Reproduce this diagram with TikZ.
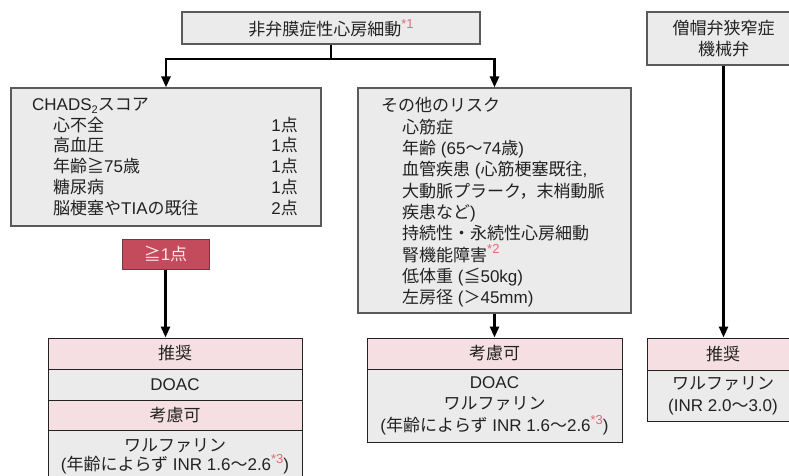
\documentclass[tikz,border=0pt]{standalone}
\usepackage{fontspec}
\setmainfont{Liberation Sans}
\newfontfamily\jpfont{Noto Sans CJK JP}
\newcommand\J[1]{{\jpfont #1}}
\usetikzlibrary{arrows.meta}
\definecolor{boxgray}{HTML}{EBEBEB}
\definecolor{edgegray}{HTML}{5A5A5A}
\definecolor{pinkrow}{HTML}{F5DFE2}
\definecolor{redbox}{HTML}{C44B5B}
\definecolor{rededge}{HTML}{6E3A40}
\definecolor{astred}{HTML}{E06A7A}
\definecolor{ink}{HTML}{222222}
\definecolor{paletext}{HTML}{FBEAEC}
\newcommand\astmark[1]{\textcolor{astred}{\raisebox{0.42em}{\fontsize{13}{13}\selectfont *#1}}}
\newcommand\subtwo{\raisebox{-0.2em}{\fontsize{11}{11}\selectfont 2}}
\begin{document}
\begin{tikzpicture}[x=1pt,y=-1pt,
  every node/.style={font=\fontsize{17}{20.7}\selectfont, text=ink, inner sep=0pt},
  gbox/.style={draw=edgegray, line width=1.2pt, fill=boxgray},
  pinkcell/.style={draw=ink, line width=1pt, fill=pinkrow, align=center},
  graycell/.style={draw=ink, line width=1pt, fill=boxgray, align=center},
  item/.style={anchor=base west},
  pts/.style={anchor=base east},
  conn/.style={line width=2.6pt, draw=black},
  arr/.style={conn, -{Triangle[width=9pt,length=11pt]}},
]
\useasboundingbox (0,0) rectangle (789,476);
\clip (0,0) rectangle (789,476);

% top boxes
\node[gbox, minimum width=298pt, minimum height=32pt] (nv) at (331,28) {\J{非弁膜症性心房細動}\astmark{1}};
\node[gbox, minimum width=153pt, minimum height=53pt, align=center] (mv) at (723.5,38.5) {\J{僧帽弁狭窄症}\\\J{機械弁}};

% CHADS2 box
\node[gbox, minimum width=310pt, minimum height=138pt] (chads) at (166,157) {};
\node[item] (c0) at (32,110.5) {CHADS\subtwo\J{スコア}};
\node[item] (c1) at (53,131.2) {\J{心不全}};
\node[item] (c2) at (53,151.9) {\J{高血圧}};
\node[item] (c3) at (53,172.6) {\J{年齢≧}75\J{歳}};
\node[item] (c4) at (53,193.3) {\J{糖尿病}};
\node[item] (c5) at (53,214) {\J{脳梗塞や}TIA\J{の既往}};
\node[pts] (p1) at (298,131.2) {1\J{点}};
\node[pts] (p2) at (298,151.9) {1\J{点}};
\node[pts] (p3) at (298,172.6) {1\J{点}};
\node[pts] (p4) at (298,193.3) {1\J{点}};
\node[pts] (p5) at (298,214) {2\J{点}};

% other risk box
\node[gbox, minimum width=273pt, minimum height=225pt] (other) at (494.5,200.5) {};
\node[item] (o0) at (381,111) {\J{その他のリスク}};
\node[item] (o1) at (402,133) {\J{心筋症}};
\node[item] (o2) at (402,154) {\J{年齢} (65\J{〜}74\J{歳})};
\node[item] (o3) at (402,175.5) {\J{血管疾患} (\J{心筋梗塞既往},};
\node[item] (o4) at (402,197) {\J{大動脈プラーク，末梢動脈}};
\node[item] (o5) at (402,218) {\J{疾患など})};
\node[item] (o6) at (402,239.5) {\J{持続性・永続性心房細動}};
\node[item] (o7) at (402,261) {\J{腎機能障害}\astmark{2}};
\node[item] (o8) at (402,282) {\J{低体重} (\J{≦}50kg)};
\node[item] (o9) at (402,303.5) {\J{左房径} (\J{＞}45mm)};

% >=1 box
\node[draw=rededge, line width=1pt, fill=redbox, text=paletext, minimum width=87pt, minimum height=30pt] (pt1) at (165.5,254) {\J{≧}1\J{点}};

% left result
\node[pinkcell, minimum width=254pt, minimum height=31pt] (lr1) at (175,353.5) {\J{推奨}};
\node[graycell, minimum width=254pt, minimum height=31pt] (lr2) at (175,384.5) {DOAC};
\node[pinkcell, minimum width=254pt, minimum height=30pt] (lr3) at (175,415) {\J{考慮可}};
\node[graycell, minimum width=254pt, minimum height=52pt, font=\fontsize{17}{19}\selectfont] (lr4) at (175,456) {\J{ワルファリン}\\(\J{年齢によらず} INR 1.6\J{〜}2.6\astmark{3})};

% middle result
\node[pinkcell, minimum width=255pt, minimum height=31pt] (mr1) at (494.5,353.5) {\J{考慮可}};
\node[graycell, minimum width=255pt, minimum height=73pt, font=\fontsize{17}{21.5}\selectfont] (mr2) at (494.5,405.5) {DOAC\\\J{ワルファリン}\\(\J{年齢によらず} INR 1.6\J{〜}2.6\astmark{3})};

% right result
\node[pinkcell, minimum width=152pt, minimum height=32pt] (rr1) at (723,354) {\J{推奨}};
\node[graycell, minimum width=152pt, minimum height=51pt, font=\fontsize{17}{22}\selectfont] (rr2) at (723,395.5) {\J{ワルファリン}\\(INR 2.0\J{〜}3.0)};

% connectors
\coordinate (j) at (331,59);
\draw[conn] (nv.south) -- (j);
\draw[arr] (j) -| (chads.north);
\draw[arr] (j) -| (other.north);
\draw[arr] (pt1.south) -- (pt1.south |- lr1.north);
\draw[arr] (other.south) -- (other.south |- mr1.north);
\draw[arr] (mv.south) -- (mv.south |- rr1.north);
\end{tikzpicture}
\end{document}
